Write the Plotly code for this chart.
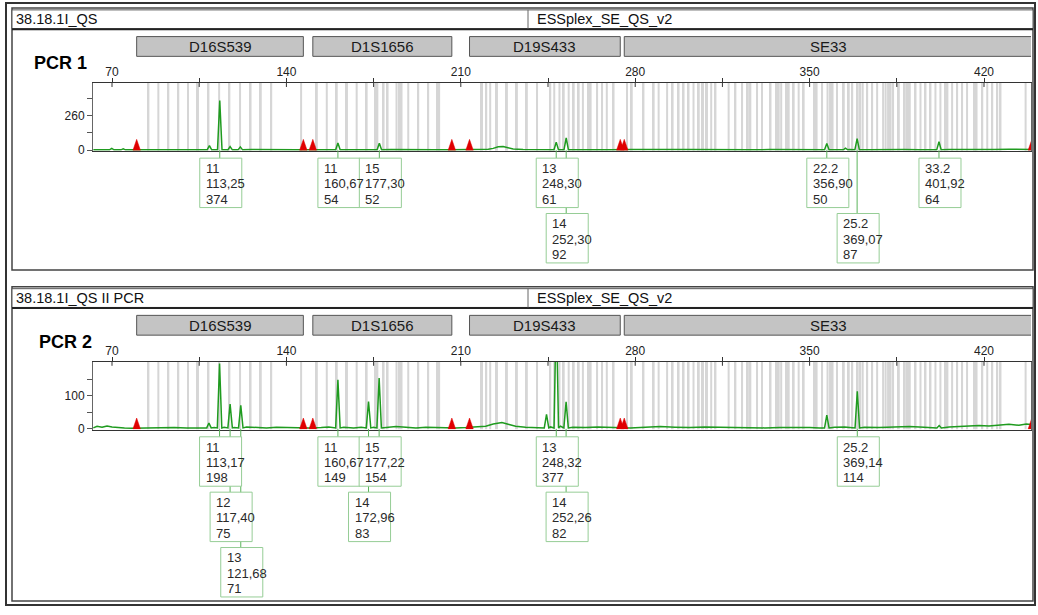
import plotly.graph_objects as go

W, H = 1038, 615
FONT = "Arial, 'Liberation Sans', Helvetica, sans-serif"
LABEL_FONT = "'Liberation Sans Narrow', 'Arial Narrow', Arial, 'Liberation Sans', sans-serif"

# ---- size axis (bp) ----
X_RANGE = [62.37, 438.86]
X_TICKS = [70, 105, 140, 175, 210, 245, 280, 315, 350, 385, 420]
X_TICK_TEXT = ["70", "", "140", "", "210", "", "280", "", "350", "", "420"]

# ---- loci of the kit ----
KIT_NAME = "ESSplex_SE_QS_v2"
LOCI = ["D16S539", "D1S1656", "D19S433", "SE33"]
LOCUS_START = [79.9, 150.6, 213.5, 275.6]
LOCUS_END = [146.8, 206.4, 274.0, 439.2]

# ---- allele bins (bp) ----
BINS_D16S539 = [84.6, 88.6, 92.6, 96.6, 100.5, 104.5, 108.7, 113.0, 117.1,
                121.4, 125.6, 129.7, 133.9]
BINS_D1S1656 = [145.9, 152.2, 156.2, 160.2, 164.3, 168.2, 172.2, 175.6, 176.5,
                179.0, 180.6, 184.2, 185.2, 186.2, 188.9, 192.9, 196.9, 200.5, 201.3]
BINS_D19S433 = [218.5, 220.2, 221.8, 224.5, 228.5, 232.5, 236.5, 240.6, 245.9,
                247.5, 249.6, 251.3, 253.3, 255.3, 257.3, 259.0, 261.2, 262.1,
                264.7, 266.7, 268.6, 271.3]
BINS_SE33 = [276.7, 278.6, 283.3, 287.4, 289.4, 292.8, 295.0, 297.4, 299.4, 301.4,
             303.4, 305.5, 307.2, 308.8, 310.5, 312.2, 317.5, 320.2, 322.9, 325.2,
             326.2, 328.9, 330.9, 334.3, 336.6, 337.6, 338.6, 340.6, 341.6, 343.6,
             345.6, 347.6, 351.8, 352.8, 355.0, 357.2, 358.2, 359.2, 361.0, 363.7,
             365.7, 367.1, 369.3, 370.3, 371.3, 373.1, 375.1, 377.1, 379.5, 380.5,
             381.5, 382.5, 383.5, 385.8, 388.2, 389.2, 390.2, 392.5, 394.5, 396.5,
             398.5, 400.5, 402.5, 404.4, 405.3, 407.2, 409.2, 411.2, 413.2, 416.3,
             417.0, 419.3, 421.3, 423.3, 425.3, 426.6, 436.7]

# ---- PCR 1 ----
P1_SAMPLE = "38.18.1I_QS"
P1_RUN = "PCR 1"
P1_ALLELE = ["11", "11", "15", "13", "14", "22.2", "25.2", "33.2"]
P1_SIZE = [113.25, 160.67, 177.30, 248.30, 252.30, 356.90, 369.07, 401.92]
P1_HEIGHT = [374, 54, 52, 61, 92, 50, 87, 64]
P1_MINOR_SIZE = [69.9, 74.5, 109.1, 117.4, 121.5, 364.4]
P1_MINOR_HEIGHT = [14, 10, 35, 28, 25, 15]
P1_BASE_X = [62.5, 66, 72, 78, 84, 90, 96, 102, 106, 112, 116, 120, 126, 132, 138,
             144, 150, 156, 164, 170, 176, 182, 188, 194, 200, 206, 212, 218, 221,
             223, 225, 227, 229, 231, 235, 240, 246, 256, 262, 270, 278, 286, 294,
             302, 310, 318, 326, 334, 342, 350, 360, 366, 374, 380, 388, 394, 398,
             406, 412, 418, 424, 430, 436, 438.8]
P1_BASE_Y = [4, 3, 4, 3, 5, 3, 4, 3, 4, 3, 4, 3, 5, 3, 4,
             3, 4, 5, 3, 4, 3, 5, 3, 4, 3, 4, 5, 6, 8,
             14, 26, 28, 20, 9, 5, 4, 5, 4, 3, 4, 5, 3, 5,
             6, 4, 5, 3, 5, 4, 6, 4, 5, 4, 6, 5, 4, 3,
             5, 4, 6, 5, 8, 10, 6]

# ---- PCR 2 ----
P2_SAMPLE = "38.18.1I_QS II PCR"
P2_RUN = "PCR 2"
P2_ALLELE = ["11", "12", "13", "11", "14", "15", "13", "14", "25.2"]
P2_SIZE = [113.17, 117.40, 121.68, 160.67, 172.96, 177.22, 248.32, 252.26, 369.14]
P2_HEIGHT = [198, 75, 71, 149, 83, 154, 377, 82, 114]
P2_MINOR_SIZE = [108.9, 244.4, 356.9, 402.0]
P2_MINOR_HEIGHT = [18, 44, 42, 10]
P2_BASE_X = [62.5, 64, 66, 68, 70, 72, 75, 78, 82, 86, 90, 95, 100, 104, 107, 111,
             115, 119, 124, 128, 132, 136, 140, 144, 149, 154, 157, 163, 167, 170,
             175, 180, 184, 188, 192, 196, 200, 204, 208, 212, 216, 220, 223, 226.5,
             229, 232, 236, 240, 246, 250, 255, 260, 265, 270, 278, 284, 290, 296,
             302, 308, 314, 320, 326, 332, 338, 344, 350, 354, 360, 364, 372, 378,
             384, 390, 396, 400, 406, 412, 418, 422, 426, 430, 434, 437, 438.8]
P2_BASE_Y = [3, 8, 5, 9, 6, 4, 3, 2, 3, 4, 3, 4, 3, 2, 3, 4,
             5, 4, 6, 4, 3, 5, 4, 2, 3, 4, 6, 5, 3, 5,
             5, 4, 7, 5, 3, 5, 4, 2, 3, 4, 6, 8, 15, 19,
             14, 8, 5, 4, 6, 8, 5, 4, 6, 5, 3, 5, 7, 5,
             4, 6, 5, 4, 5, 3, 4, 5, 4, 3, 5, 6, 5, 4,
             6, 7, 5, 4, 6, 8, 10, 9, 12, 14, 11, 15, 13]

ALL_BINS = BINS_D16S539 + BINS_D1S1656 + BINS_D19S433 + BINS_SE33

panels = [
    dict(sample=P1_SAMPLE, run=P1_RUN, alleles=P1_ALLELE, sizes=P1_SIZE,
         heights=P1_HEIGHT, minor_s=P1_MINOR_SIZE, minor_h=P1_MINOR_HEIGHT,
         bx=P1_BASE_X, by=P1_BASE_Y, yrange=[-4, 505],
         yticks=[0, 130, 260, 390], ytext=["0", "", "260", ""],
         off=0.0, frame_bottom=273, run_x=32),
    dict(sample=P2_SAMPLE, run=P2_RUN, alleles=P2_ALLELE, sizes=P2_SIZE,
         heights=P2_HEIGHT, minor_s=P2_MINOR_SIZE, minor_h=P2_MINOR_HEIGHT,
         bx=P2_BASE_X, by=P2_BASE_Y, yrange=[-2, 203],
         yticks=[0, 50, 100, 150], ytext=["0", "", "100", ""],
         off=282.0, frame_bottom=608, run_x=37),
]


def px(x):
    return x / W


def py(y):
    return 1 - y / H


def trace_points(bx, by, sizes, heights):
    pts = []
    for x, y in zip(bx, by):
        if all(abs(x - s) > 1.2 for s in sizes):
            pts.append((x, y))
    for s, h in zip(sizes, heights):
        pts += [(s - 0.9, 3), (s, h), (s + 0.9, 3)]
    pts.sort()
    return [p[0] for p in pts], [p[1] for p in pts]


GREEN = "#1f9b1f"
BOX_GREEN = "rgb(150,205,150)"
LINK_GREEN = "rgb(90,180,90)"
TEXT = "#2a2a2a"
BOX_W_BP = 16.87
BOX_LEFT_BP = 8.03

fig = go.Figure()
shapes = []
annotations = []


def note(text, xref, x, y, size, color, xanchor="left", family=FONT, xshift=0):
    annotations.append(dict(text=text, xref=xref, yref="paper", x=x, y=y,
                            xanchor=xanchor, yanchor="middle", xshift=xshift,
                            showarrow=False, font=dict(family=family, size=size, color=color)))


# outer frame
shapes.append(dict(type="rect", xref="paper", yref="paper",
                   x0=px(6), x1=px(1035), y0=py(3), y1=py(612),
                   line=dict(color="#333", width=2), layer="below"))

for i, p in enumerate(panels):
    off = p["off"]
    sx = "" if i == 0 else str(i + 1)
    xa, ya = "x" + sx, "y" + sx
    top, bot = 84 + off, 152.5 + off
    ymin, ymax = p["yrange"]
    units_per_px = (ymax - ymin) / (bot - top)
    zero_px = top + ymax / units_per_px

    # panel frame and header row
    shapes.append(dict(type="rect", xref="paper", yref="paper",
                       x0=px(12), x1=px(1033), y0=py(8 + off), y1=py(p["frame_bottom"]),
                       line=dict(color="#444", width=1.5), layer="below"))
    shapes.append(dict(type="rect", xref="paper", yref="paper",
                       x0=px(12), x1=px(1033), y0=py(10 + off), y1=py(29 + off),
                       line=dict(color="#555", width=1), fillcolor="white", layer="below"))
    shapes.append(dict(type="line", xref="paper", yref="paper",
                       x0=px(12), x1=px(1033), y0=py(29.5 + off), y1=py(29.5 + off),
                       line=dict(color="#222", width=2), layer="below"))
    shapes.append(dict(type="line", xref="paper", yref="paper",
                       x0=px(528), x1=px(528), y0=py(10 + off), y1=py(29 + off),
                       line=dict(color="#666", width=1), layer="below"))
    note(p["sample"], "paper", px(14), py(19 + off), 14.5, "#111")
    note(KIT_NAME, "paper", px(535), py(19 + off), 14.5, "#111")
    note("<b>%s</b>" % p["run"], "paper", px(p["run_x"]), py(63.5 + off), 18, "#000")

    # locus boxes
    for name, a, b in zip(LOCI, LOCUS_START, LOCUS_END):
        shapes.append(dict(type="rect", xref=xa, yref="paper", x0=a, x1=b,
                           y0=py(37 + off), y1=py(57 + off),
                           fillcolor="#c4c4c4", line=dict(color="#555", width=1)))
        note(name, xa, (a + b) / 2, py(47 + off), 15, "#1a1a1a", xanchor="center")

    # inner half of the size ticks
    for t in X_TICKS:
        shapes.append(dict(type="line", xref=xa, yref="paper", x0=t, x1=t,
                           y0=py(top), y1=py(top + 4), line=dict(color="#333", width=1)))

    # bins
    fig.add_trace(go.Bar(x=ALL_BINS, y=[ymax - ymin] * len(ALL_BINS), base=ymin,
                         width=0.8, marker=dict(color="#d6d6d6", line=dict(width=0)),
                         xaxis=xa, yaxis=ya, hoverinfo="skip", showlegend=False))

    # electropherogram trace
    tx, ty = trace_points(p["bx"], p["by"], p["sizes"] + p["minor_s"],
                          p["heights"] + p["minor_h"])
    fig.add_trace(go.Scatter(x=tx, y=ty, mode="lines", line=dict(color=GREEN, width=1.5),
                             xaxis=xa, yaxis=ya, hoverinfo="skip", showlegend=False))

    # locus edge flags
    tri_h = 11 * units_per_px
    fx, fy = [], []
    for e in LOCUS_START + LOCUS_END:
        fx += [e - 1.5, e, e + 1.5, e - 1.5, None]
        fy += [0, tri_h, 0, 0, None]
    fig.add_trace(go.Scatter(x=fx, y=fy, mode="lines", fill="toself",
                             fillcolor="#e00000", line=dict(color="#e00000", width=0.5),
                             xaxis=xa, yaxis=ya, hoverinfo="skip", showlegend=False))

    # allele call labels: stack boxes in rows so they never overlap
    order = sorted(range(len(p["sizes"])), key=lambda k: p["sizes"][k])
    row_right = []
    placement = {}
    for k in order:
        left = p["sizes"][k] - BOX_LEFT_BP
        row = 0
        while row < len(row_right) and left < row_right[row] - 0.5:
            row += 1
        if row == len(row_right):
            row_right.append(0)
        row_right[row] = left + BOX_W_BP
        placement[k] = row

    for k in order:
        s = p["sizes"][k]
        rt = zero_px + 8 + 56 * placement[k]
        shapes.append(dict(type="line", xref=xa, yref="paper", x0=s, x1=s,
                           y0=py(zero_px), y1=py(rt), line=dict(color=LINK_GREEN, width=1)))
    for k in order:
        s = p["sizes"][k]
        rt = zero_px + 8 + 56 * placement[k]
        left = s - BOX_LEFT_BP
        shapes.append(dict(type="rect", xref=xa, yref="paper", x0=left, x1=left + BOX_W_BP,
                           y0=py(rt), y1=py(rt + 50), fillcolor="white",
                           line=dict(color=BOX_GREEN, width=1)))
        lines = [p["alleles"][k], ("%.2f" % s).replace(".", ","), str(p["heights"][k])]
        for j, txt in enumerate(lines):
            note(txt, xa, left, py(rt + 10.5 + 15.5 * j), 13, TEXT,
                 family=LABEL_FONT, xshift=4)

    fig.layout["xaxis" + sx] = dict(
        domain=[px(93), px(1031)], range=X_RANGE, anchor=ya, side="top",
        tickvals=X_TICKS, ticktext=X_TICK_TEXT, ticks="outside", ticklen=4,
        tickcolor="#333", showline=True, linecolor="#333", linewidth=1, mirror=True,
        showgrid=False, zeroline=False, fixedrange=True, ticklabelstandoff=-3,
        tickfont=dict(family=FONT, size=12, color="#222"))
    fig.layout["yaxis" + sx] = dict(
        domain=[py(bot), py(top)], range=p["yrange"], anchor=xa,
        tickvals=p["yticks"], ticktext=p["ytext"], ticks="outside", ticklen=5,
        tickcolor="#555", showline=True, linecolor="#666", linewidth=1, mirror=True,
        showgrid=False, zeroline=False, fixedrange=True,
        tickfont=dict(family=FONT, size=12, color="#222"))

fig.update_layout(width=W, height=H, margin=dict(l=0, r=0, t=0, b=0),
                  paper_bgcolor="white", plot_bgcolor="white", barmode="overlay",
                  showlegend=False, shapes=shapes, annotations=annotations)

fig.write_html("out.html")
